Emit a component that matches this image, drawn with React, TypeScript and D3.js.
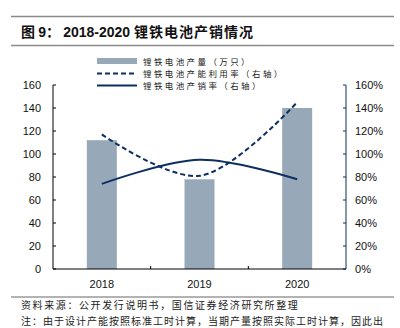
import React from "react";
import * as d3 from "d3";

const years = ["2018", "2019", "2020"];
const output = [112, 78, 140];
const utilization = [117, 81, 145];
const salesRate = [74, 95, 78];
const leftTicks = [0, 20, 40, 60, 80, 100, 120, 140, 160];
const rightTicks = [0, 20, 40, 60, 80, 100, 120, 140, 160];
const legendLabels = ["锂铁电池产量（万只）", "锂铁电池产能利用率（右轴）", "锂铁电池产销率（右轴）"];

const W = 400, H = 328;
const left = 53, right = 346, top = 85, bottom = 269;
const barColor = "#97a9b9";
const navy = "#0d2f5f";
const cjk = "'Noto Sans CJK SC', sans-serif";
const latin = "'Liberation Sans', Arial, sans-serif";

export default function App() {
  const x = d3.scaleBand<string>().domain(years).range([left, right]).paddingInner(0).paddingOuter(0);
  const yL = d3.scaleLinear().domain([0, 160]).range([bottom, top]);
  const yR = d3.scaleLinear().domain([0, 160]).range([bottom, top]);
  const bw = 30;
  const cx = (d: string) => (x(d) as number) + x.bandwidth() / 2;
  const line = d3.line<number>().x((_, i) => cx(years[i])).y((v) => yR(v)).curve(d3.curveCatmullRom.alpha(0.5));

  return (
    <svg width={W} height={H} style={{ position: "absolute", left: 0, top: 0, background: "#fff" }}>
      <rect x={0} y={0} width={W} height={H} fill="#fff" />
      <line x1={11} x2={394} y1={16.5} y2={16.5} stroke="#8a8a8a" strokeWidth={1.6} />
      <text x={21} y={37} fontWeight="bold" fontSize={14} fill="#111">
        <tspan fontFamily={cjk}>图 </tspan>
        <tspan fontFamily={latin}>9</tspan>
        <tspan fontFamily={cjk}>： </tspan>
        <tspan fontFamily={latin}>2018-2020 </tspan>
        <tspan fontFamily={cjk} letterSpacing={1}>锂铁电池产销情况</tspan>
      </text>
      <line x1={11} x2={394} y1={45.5} y2={45.5} stroke="#8a8a8a" strokeWidth={1.6} />

      {/* legend */}
      <rect x={97} y={58} width={40} height={6} fill={barColor} />
      <line x1={97} x2={137} y1={73.5} y2={73.5} stroke={navy} strokeWidth={2} strokeDasharray="5,3" />
      <line x1={97} x2={137} y1={85.5} y2={85.5} stroke={navy} strokeWidth={2} />
      {legendLabels.map((t, i) => (
        <text key={t} x={143} y={64.5 + i * 12.3} fontFamily={cjk} fontSize={8.5} letterSpacing={2.4} fill="#222">{t}</text>
      ))}

      {/* bars */}
      {years.map((d, i) => (
        <rect key={d} x={cx(d) - bw / 2} y={yL(output[i])} width={bw} height={bottom - yL(output[i])} fill={barColor} />
      ))}

      {/* lines */}
      <path d={line(utilization) || ""} fill="none" stroke={navy} strokeWidth={2} strokeDasharray="5,3" />
      <path d={line(salesRate) || ""} fill="none" stroke={navy} strokeWidth={2} />

      {/* left axis */}
      <line x1={left} x2={left} y1={top} y2={bottom} stroke="#000" strokeWidth={1} />
      {leftTicks.map((t) => (
        <g key={t}>
          <line x1={left} x2={left + 3} y1={yL(t)} y2={yL(t)} stroke="#000" />
          <text x={41} y={yL(t) + 4} textAnchor="end" fontFamily={latin} fontSize={11} fill="#111">{t}</text>
        </g>
      ))}

      {/* right axis */}
      <line x1={right} x2={right} y1={top} y2={bottom} stroke={navy} strokeWidth={1} />
      {rightTicks.map((t) => (
        <g key={t}>
          <line x1={right - 3} x2={right} y1={yR(t)} y2={yR(t)} stroke={navy} />
          <text x={355} y={yR(t) + 4} textAnchor="start" fontFamily={latin} fontSize={11} fill="#111">{t}%</text>
        </g>
      ))}

      {/* bottom axis */}
      <line x1={left} x2={right} y1={bottom} y2={bottom} stroke="#000" strokeWidth={1} />
      {years.slice(1).map((d) => (
        <line key={d} x1={x(d) as number} x2={x(d) as number} y1={bottom} y2={bottom - 3} stroke="#000" />
      ))}
      {years.map((d) => (
        <text key={d} x={cx(d)} y={288} textAnchor="middle" fontFamily={latin} fontSize={11} fill="#111">{d}</text>
      ))}

      <line x1={11} x2={394} y1={297} y2={297} stroke="#666" strokeWidth={1} />
      <text x={21} y={309} fontFamily={cjk} fontSize={10} letterSpacing={1.6} fill="#222">资料来源：公开发行说明书，国信证券经济研究所整理</text>
      <text x={21} y={325} fontFamily={cjk} fontSize={10} letterSpacing={1} fill="#222">注：由于设计产能按照标准工时计算，当期产量按照实际工时计算，因此出</text>
    </svg>
  );
}
